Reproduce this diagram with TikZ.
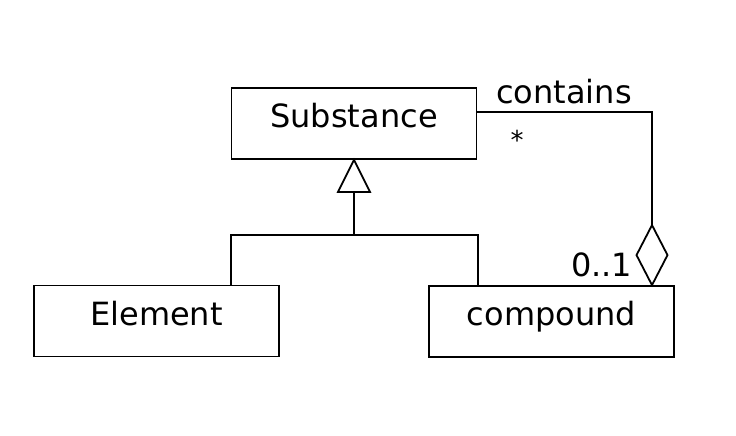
\documentclass[tikz,border=0pt]{standalone}
\usepackage{fontspec}
\setmainfont{DejaVu Sans}
\begin{document}
\begin{tikzpicture}[x=1pt,y=-1pt,
  every path/.style={line width=1.8pt},
  cls/.style={draw, line width=1.8pt, rectangle, minimum width=245pt, minimum height=71pt, inner sep=0pt,
              font=\fontsize{32}{36}\selectfont, text depth=14pt, text height=22pt},
  lbl/.style={font=\fontsize{32}{36}\selectfont, inner sep=0pt}]
\useasboundingbox (0,0) rectangle (736,436);
\fill[white] (0,0) rectangle (736,436);
\node[cls] (sub) at (354,123.5) {Substance};
\node[cls] (el) at (156.5,321) {Element};
\node[cls] (cp) at (551.5,321.5) {compound};
% generalization
\draw (sub.south) -- ++(-16,32) -- ++(32,0) -- cycle;
\coordinate (tb) at ([yshift=-32pt]sub.south);
\coordinate (ej) at ([xshift=198pt]el.north west);
\coordinate (cj) at ([xshift=50pt]cp.north west);
\draw (tb) -- ++(0,43) coordinate (hj);
\draw (ej) |- (hj) -| (cj);
% aggregation
\coordinate (db) at ([xshift=100.5pt]cp.north);
\draw (db) -- ++(-15.5,-30) -- ++(15.5,-30) coordinate (dt) -- ++(15.5,30) -- cycle;
\coordinate (se) at ([yshift=11.5pt]sub.east);
\draw (se) -| (dt);
\node[lbl, anchor=base] (contains) at (564,103) {contains};
\node[lbl, anchor=center, font=\fontsize{26}{30}\selectfont] (star) at (517,140) {*};
\node[lbl, anchor=base east] (mult) at (633,276) {0..1};
\end{tikzpicture}
\end{document}
